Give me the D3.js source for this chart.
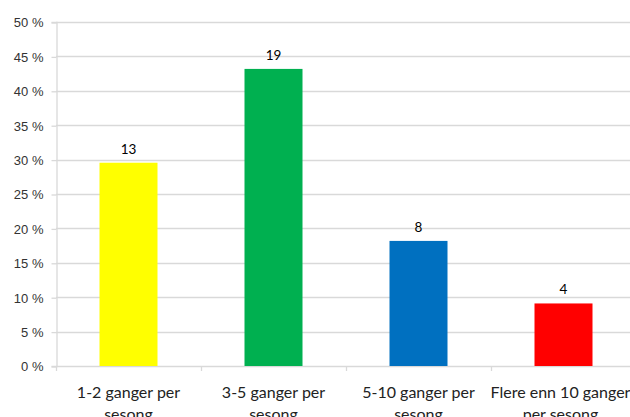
<!DOCTYPE html>
<html>
<head>
<meta charset="utf-8">
<script src="https://cdn.jsdelivr.net/npm/d3@7"></script>
<style>
  html, body { margin: 0; padding: 0; background: #fff; }
  svg { display: block; font-family: Lato, "Open Sans", sans-serif; }
</style>
</head>
<body>
<svg id="chart" width="630" height="417"></svg>
<script>
// Answer categories, respondent counts and bar colours
const categories = [
  ["1-2 ganger per", "sesong"],
  ["3-5 ganger per", "sesong"],
  ["5-10 ganger per", "sesong"],
  ["Flere enn 10 ganger", "per sesong"]
];
const counts = [13, 19, 8, 4];
const colors = ["#ffff00", "#00b050", "#0070c0", "#ff0000"];
const yTicks = [0, 0.05, 0.10, 0.15, 0.20, 0.25, 0.30, 0.35, 0.40, 0.45, 0.50];

const total = d3.sum(counts);
const shares = counts.map(c => c / total);

const svg = d3.select("#chart");
const margin = { left: 56, right: -6, top: 22, bottom: 51 };
const W = 630, H = 417;

const x = d3.scaleBand()
  .domain(d3.range(categories.length))
  .range([margin.left, W - margin.right])
  .paddingInner(0.6)
  .paddingOuter(0.3);

const y = d3.scaleLinear()
  .domain([0, 0.5])
  .range([H - margin.bottom, margin.top]);

// Horizontal gridlines
svg.append("g")
  .selectAll("line")
  .data(yTicks)
  .join("line")
  .attr("x1", margin.left)
  .attr("x2", W - margin.right)
  .attr("y1", d => Math.round(y(d)) + 0.5)
  .attr("y2", d => Math.round(y(d)) + 0.5)
  .attr("stroke", "#d9d9d9")
  .attr("stroke-width", 1.3);

// Y axis
const yAxis = d3.axisLeft(y)
  .tickValues(yTicks)
  .tickSize(5)
  .tickPadding(8)
  .tickFormat(d => Math.round(d * 100) + " %");
const gy = svg.append("g")
  .attr("transform", `translate(${margin.left + 0.5},0)`)
  .call(yAxis);
gy.select(".domain").attr("stroke", "#d9d9d9").attr("stroke-width", 1.3);
gy.selectAll(".tick line").attr("stroke", "#d9d9d9").attr("stroke-width", 1.3)
  .attr("transform", "translate(0,0.5)");
gy.selectAll(".tick text")
  .attr("fill", "#333")
  .style("font-size", "13px")
  .attr("dy", "0.38em");

// Category boundary ticks along the baseline
const bounds = d3.range(categories.length + 1).map(i => margin.left + i * (W - margin.right - margin.left) / categories.length);
svg.append("g")
  .selectAll("line")
  .data(bounds)
  .join("line")
  .attr("x1", d => Math.round(d) + 0.5)
  .attr("x2", d => Math.round(d) + 0.5)
  .attr("y1", y(0))
  .attr("y2", y(0) + 5)
  .attr("stroke", "#d9d9d9")
  .attr("stroke-width", 1.3);

// Bars
svg.append("g")
  .selectAll("rect")
  .data(shares)
  .join("rect")
  .attr("x", (d, i) => x(i))
  .attr("width", x.bandwidth())
  .attr("y", d => y(d))
  .attr("height", d => y(0) - y(d))
  .attr("fill", (d, i) => colors[i]);

// Count labels above bars
svg.append("g")
  .selectAll("text")
  .data(counts)
  .join("text")
  .attr("x", (d, i) => x(i) + x.bandwidth() / 2)
  .attr("y", (d, i) => y(shares[i]) - 9)
  .attr("text-anchor", "middle")
  .attr("fill", "#000")
  .style("font-size", "13.5px")
  .text(d => d);

// Category labels (two lines)
const cat = svg.append("g")
  .selectAll("text")
  .data(categories)
  .join("text")
  .attr("x", (d, i) => x(i) + x.bandwidth() / 2 - (i === 3 ? 3 : 0))
  .attr("y", y(0) + 32)
  .attr("text-anchor", "middle")
  .attr("fill", "#222")
  .style("font-size", "16px");
cat.selectAll("tspan")
  .data(d => d)
  .join("tspan")
  .attr("x", function () { return d3.select(this.parentNode).attr("x"); })
  .attr("dy", (d, j) => j === 0 ? 0 : 22)
  .text(d => d);
</script>
</body>
</html>
